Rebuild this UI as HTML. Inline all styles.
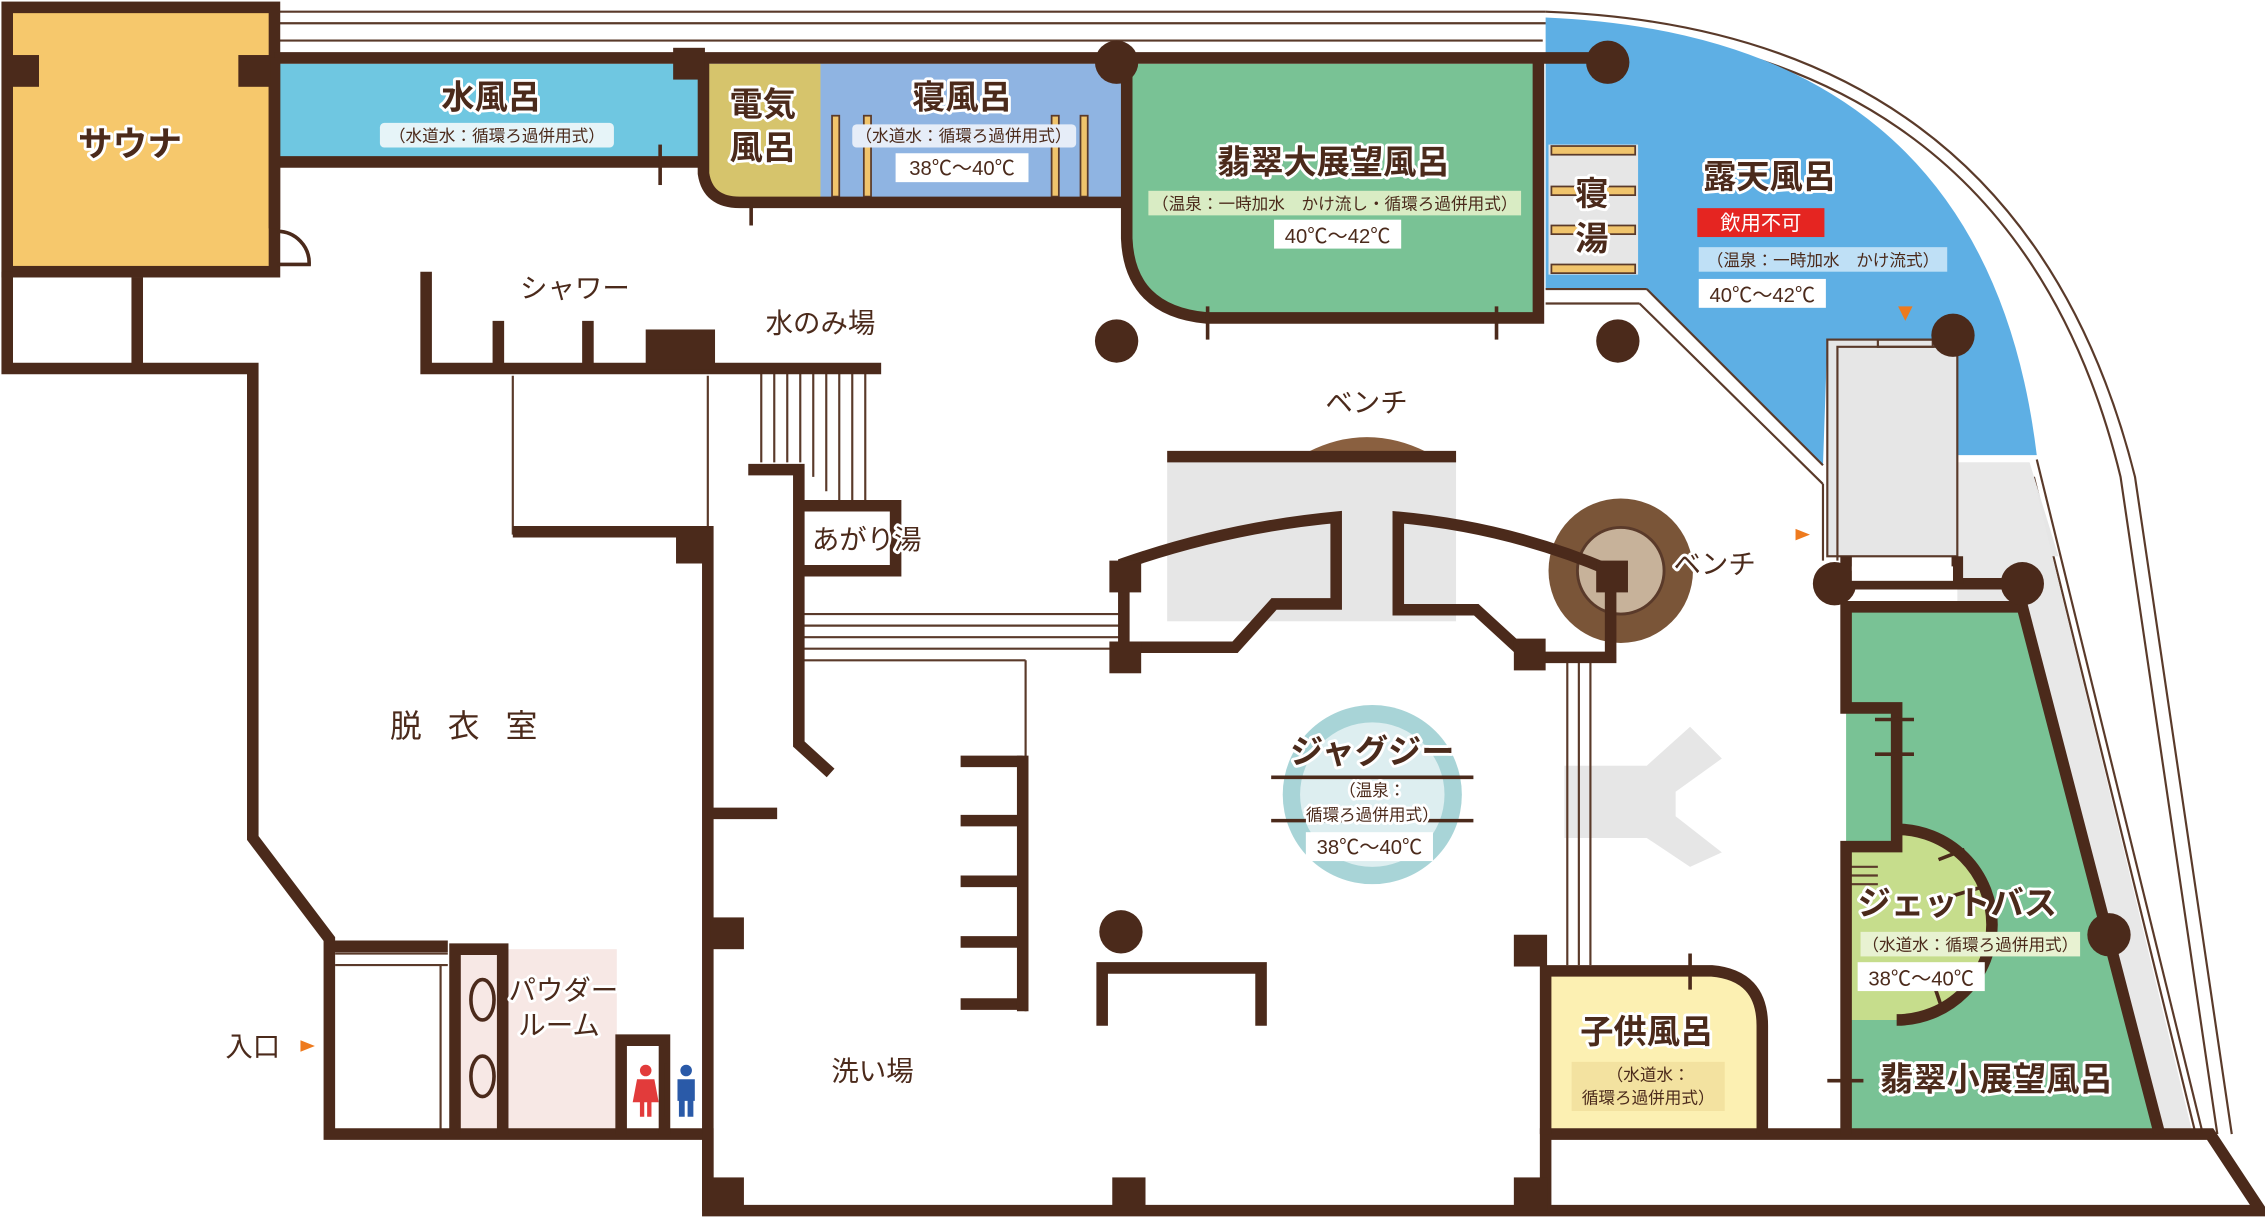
<!DOCTYPE html>
<html><head><meta charset="utf-8"><style>
html,body{margin:0;padding:0;background:#fff;}
svg{display:block;}
text{font-family:"Liberation Sans","Noto Sans CJK JP",sans-serif;}
.lb text{paint-order:stroke;stroke:#fff;stroke-width:4px;stroke-linejoin:round;}
</style></head><body>
<svg width="2265" height="1218" viewBox="0 0 1568 843" xmlns="http://www.w3.org/2000/svg">
<rect width="1568" height="843" fill="#fff"/>
<g stroke="#5a3a2a" stroke-width="1.5" fill="none">
<line x1="190" y1="8" x2="1070" y2="8"/><line x1="190" y1="16" x2="1070" y2="16"/><line x1="190" y1="28" x2="1068" y2="28"/>
<path d="M1070 8 Q1400 20 1478 330 L1545 785"/><path d="M1070 16 Q1395 30 1468 330 L1535 785"/>
<path d="M1410 318 L1525 785"/><path d="M1408 330 L1520 785"/>
</g>
<rect x="5" y="5" width="185" height="183" fill="#f6c86c"/>
<rect x="190" y="44" width="297" height="68" fill="#6fc7e1"/>
<path d="M487 44 H568 V140 H510 Q492 140 490 120 Z" fill="#d6c46c"/>
<rect x="568" y="44" width="212" height="96" fill="#8fb4e2"/>
<path d="M780 44 H1065 V220 H835 Q782 215 780 165 Z" fill="#79c295"/>
<path d="M1070 12 Q1375 25 1410 315 L1355 315 L1355 235 L1265 235 L1262 322 L1140 200 L1070 200 Z" fill="#5eafe4"/>
<rect x="1072" y="100" width="62" height="90" fill="#e6e6e6"/>
<g fill="#f0c46c" stroke="#5a3a2a" stroke-width="1.2">
<rect x="1074" y="101" width="58" height="6"/><rect x="1074" y="129" width="58" height="6"/><rect x="1074" y="156" width="58" height="6"/><rect x="1074" y="183" width="58" height="6"/>
<rect x="576" y="80" width="5" height="56"/><rect x="598" y="80" width="5" height="56"/><rect x="728" y="80" width="5" height="56"/><rect x="748" y="80" width="5" height="56"/>
</g>
<path d="M1265 235 H1355 V320 H1405 L1425 385 H1355 V385 H1265 Z" fill="#e6e6e6"/>
<path d="M1355 320 H1405 L1518 785 H1497 L1400 420 H1355 Z" fill="#e8e8e8"/>
<path d="M1278 420 H1400 L1495 785 H1278 Z" fill="#79c295"/>
<path d="M1313 574 A66 66 0 0 1 1313 706 H1278 V586 H1313 Z" fill="#c6dd8c"/>
<path d="M1070 672 H1185 Q1218 675 1220 710 V785 H1070 Z" fill="#fcf0b2"/>
<rect x="315" y="657" width="112" height="126" fill="#f7e8e5"/>
<rect x="808" y="318" width="200" height="112" fill="#e6e6e6"/>
<path d="M1083 530 H1140 L1170 503 L1192 525 L1160 548 L1160 565 L1192 590 L1170 600 L1140 580 H1083 Z" fill="#e6e6e6"/>
<circle cx="950" cy="550" r="62" fill="#a8d4d7"/><circle cx="950" cy="550" r="50" fill="#ddeef0"/>
<circle cx="1122" cy="395" r="50" fill="#7a5538"/><circle cx="1122" cy="395" r="30" fill="#c7b29a" stroke="#5a3a2a" stroke-width="2"/>
<path d="M905 313 Q946 292 988 313 Z" fill="#8a6040"/>
<g stroke="#5a3a2a" stroke-width="1.5" fill="none">
<line x1="527" y1="257" x2="527" y2="320"/><line x1="536" y1="257" x2="536" y2="320"/><line x1="545" y1="257" x2="545" y2="320"/><line x1="554" y1="257" x2="554" y2="320"/><line x1="563" y1="257" x2="563" y2="330"/><line x1="572" y1="257" x2="572" y2="340"/><line x1="581" y1="257" x2="581" y2="350"/><line x1="590" y1="257" x2="590" y2="350"/><line x1="599" y1="257" x2="599" y2="350"/>
<line x1="555" y1="425" x2="775" y2="425"/><line x1="555" y1="433" x2="775" y2="433"/><line x1="555" y1="441" x2="775" y2="441"/><line x1="555" y1="449" x2="775" y2="449"/><line x1="555" y1="457" x2="710" y2="457"/>
<line x1="710" y1="457" x2="710" y2="700"/>
<line x1="1085" y1="455" x2="1085" y2="668"/><line x1="1093" y1="455" x2="1093" y2="668"/><line x1="1101" y1="455" x2="1101" y2="668"/>
<line x1="355" y1="260" x2="355" y2="370"/><line x1="490" y1="260" x2="490" y2="370"/>
<line x1="232" y1="660" x2="310" y2="660"/><line x1="232" y1="668" x2="310" y2="668"/><line x1="305" y1="668" x2="305" y2="785"/>
<line x1="1070" y1="200" x2="1140" y2="200"/><line x1="1140" y1="200" x2="1262" y2="322"/><line x1="1070" y1="210" x2="1135" y2="210"/><line x1="1135" y1="210" x2="1262" y2="335"/>
<path d="M1262 335 V388 M1272 388 V240 H1355"/>
<rect x="1265" y="235" width="90" height="150"/>
<rect x="1300" y="235" width="38" height="5"/>
<line x1="1280" y1="600" x2="1300" y2="600"/><line x1="1280" y1="606" x2="1300" y2="606"/><line x1="1280" y1="612" x2="1300" y2="612"/>
</g>
<g stroke="#4b2a1b" stroke-width="8" fill="none">
<rect x="5" y="5" width="185" height="183"/>
<line x1="190" y1="40" x2="1115" y2="40"/>
<line x1="190" y1="112" x2="487" y2="112"/>
<line x1="190" y1="40" x2="190" y2="158"/>
<path d="M487 40 V120 Q490 140 512 140 H780"/>
<path d="M780 40 V165 Q782 215 835 220 H1065 V40"/>
<path d="M5 188 V255 H175 V580 L228 650 V785 H490 V838 H1565 L1530 785 H1070 V838"/>
<line x1="95" y1="192" x2="95" y2="255"/>
<path d="M295 188 V255 H610"/>
<line x1="345" y1="222" x2="345" y2="255"/><line x1="407" y1="222" x2="407" y2="255"/>
<path d="M355 368 H490 V838"/>
<path d="M518 325 H553 V515 L575 535"/>
<path d="M553 350 H620 V395 H553"/>
<line x1="490" y1="563" x2="538" y2="563"/>
<line x1="665" y1="527" x2="708" y2="527"/><line x1="665" y1="568" x2="708" y2="568"/><line x1="665" y1="610" x2="708" y2="610"/><line x1="665" y1="652" x2="708" y2="652"/><line x1="665" y1="695" x2="708" y2="695"/>
<line x1="708" y1="523" x2="708" y2="700"/>
<path d="M763 710 V670 H873 V710"/>
<line x1="808" y1="316" x2="1008" y2="316"/>
<path d="M778 448 V390 Q850 365 925 358 V418 H882 L855 448 Z"/>
<path d="M968 358 Q1045 365 1115 395 V455 H1058 L1022 422 H968 Z"/>
<path d="M1070 785 V672 H1185 Q1220 675 1220 710 V785"/>
<path d="M1278 785 V586 H1313 V490 H1278 V420 H1400 L1495 785"/>
<path d="M1313 574 A66 66 0 0 1 1313 706"/>
<path d="M1258 404 H1412"/>
<line x1="1355" y1="385" x2="1355" y2="404"/><line x1="1278" y1="385" x2="1278" y2="404"/>
<path d="M228 655 H310"/>
<path d="M315 785 V657 H348 V785"/>
<path d="M430 785 V720 H460 V785"/>
</g>
<g stroke="#4b2a1b" stroke-width="2.5" fill="none">
<line x1="457" y1="100" x2="457" y2="128"/><line x1="520" y1="140" x2="520" y2="156"/>
<line x1="836" y1="212" x2="836" y2="235"/><line x1="1036" y1="212" x2="1036" y2="235"/>
<line x1="1170" y1="660" x2="1170" y2="685"/>
<line x1="1298" y1="672" x2="1298" y2="672"/>
<line x1="1298" y1="498" x2="1325" y2="498"/><line x1="1298" y1="522" x2="1325" y2="522"/>
<line x1="1265" y1="748" x2="1290" y2="748"/>
<line x1="1342" y1="595" x2="1360" y2="588"/><line x1="1352" y1="620" x2="1372" y2="614"/><line x1="1355" y1="650" x2="1375" y2="654"/><line x1="1340" y1="685" x2="1345" y2="700"/>
<line x1="880" y1="538" x2="1020" y2="538"/><line x1="880" y1="568" x2="1020" y2="568"/>
<path d="M192 160 A22 22 0 0 1 214 183 H192"/>
<ellipse cx="334" cy="692" rx="8" ry="14"/><ellipse cx="334" cy="745" rx="8" ry="14"/>
</g>
<g fill="#4b2a1b">
<rect x="5" y="38" width="22" height="22"/><rect x="165" y="38" width="22" height="22"/><rect x="466" y="33" width="22" height="22"/>
<rect x="447" y="228" width="48" height="28"/><rect x="468" y="366" width="24" height="24"/>
<rect x="768" y="388" width="22" height="22"/><rect x="768" y="444" width="22" height="22"/><rect x="1105" y="388" width="22" height="22"/><rect x="1048" y="442" width="22" height="22"/>
<rect x="492" y="635" width="23" height="22"/><rect x="490" y="815" width="25" height="23"/><rect x="770" y="815" width="23" height="23"/><rect x="1048" y="815" width="23" height="23"/><rect x="1048" y="647" width="23" height="22"/>
<circle cx="773" cy="43" r="15"/><circle cx="1113" cy="43" r="15"/><circle cx="773" cy="236" r="15"/><circle cx="1120" cy="236" r="15"/><circle cx="776" cy="645" r="15"/>
<circle cx="1270" cy="404" r="15"/><circle cx="1400" cy="404" r="15"/><circle cx="1352" cy="232" r="15"/><circle cx="1460" cy="647" r="15"/>
</g>
<rect x="1282" y="392" width="70" height="10" fill="#fff"/>
<polygon points="208,720 218,724 208,728" fill="#ee7a1e"/><polygon points="1243,366 1253,370 1243,374" fill="#ee7a1e"/><polygon points="1314,212 1324,212 1319,222" fill="#ee7a1e"/>
<circle cx="447" cy="741" r="4" fill="#e23b3b"/><path d="M441 747 H453 L456 763 H438 Z M443 763 h3 v10 h-3z M448 763 h3 v10 h-3z" fill="#e23b3b"/>
<circle cx="475" cy="741" r="4" fill="#2a5aa8"/><path d="M469 747 H481 V762 H469 Z M470 762 h4 v11 h-4z M476 762 h4 v11 h-4z" fill="#2a5aa8"/>
<line x1="461" y1="736" x2="461" y2="773" stroke="#4b2a1b" stroke-width="1.5"/>
<g class="lb" fill="#4b2a1b" font-weight="bold">
<text x="90" y="108" font-size="24" text-anchor="middle">サウナ</text>
<text x="340" y="75" font-size="23" text-anchor="middle">水風呂</text>
<text x="528" y="80" font-size="23" text-anchor="middle">電気</text>
<text x="528" y="110" font-size="23" text-anchor="middle">風呂</text>
<text x="666" y="75" font-size="23" text-anchor="middle">寝風呂</text>
<text x="923" y="120" font-size="23" text-anchor="middle">翡翠大展望風呂</text>
<text x="1102" y="142" font-size="23" text-anchor="middle">寝</text><text x="1102" y="173" font-size="23" text-anchor="middle">湯</text>
<text x="1225" y="130" font-size="23" text-anchor="middle">露天風呂</text>
<text x="950" y="528" font-size="23" text-anchor="middle">ジャグジー</text>
<text x="1355" y="633" font-size="23" text-anchor="middle">ジェットバス</text>
<text x="1140" y="722" font-size="23" text-anchor="middle">子供風呂</text>
<text x="1382" y="755" font-size="23" text-anchor="middle">翡翠小展望風呂</text>
</g>
<g class="lb" fill="#4b2a1b" font-size="19">
<text x="398" y="206" text-anchor="middle">シャワー</text>
<text x="568" y="230" text-anchor="middle">水のみ場</text>
<text x="946" y="285" text-anchor="middle">ベンチ</text>
<text x="1187" y="397" text-anchor="middle">ベンチ</text>
<text x="600" y="380" text-anchor="middle">あがり湯</text>
<text x="330" y="510" text-anchor="middle" font-size="22" letter-spacing="18">脱衣室</text>
<text x="175" y="731" text-anchor="middle">入口</text>
<text x="390" y="692" text-anchor="middle">パウダー</text>
<text x="387" y="716" text-anchor="middle">ルーム</text>
<text x="604" y="748" text-anchor="middle">洗い場</text>
</g>
<g font-size="11.5" fill="#4b2a1b" text-anchor="middle">
<rect x="263" y="85" width="162" height="17" rx="3" fill="#e6f4f8"/><text x="344" y="98">（水道水：循環ろ過併用式）</text>
<rect x="590" y="86" width="155" height="16" rx="3" fill="#e6edf8"/><text x="667" y="98">（水道水：循環ろ過併用式）</text>
<rect x="620" y="106" width="92" height="20" fill="#fff"/><text x="666" y="121" font-size="14">38℃〜40℃</text>
<rect x="795" y="132" width="258" height="17" fill="#d9ecc4"/><text x="924" y="145">（温泉：一時加水　かけ流し・循環ろ過併用式）</text>
<rect x="882" y="152" width="88" height="20" fill="#fff"/><text x="926" y="168" font-size="14">40℃〜42℃</text>
<rect x="1175" y="144" width="88" height="20" fill="#e52521"/><text x="1219" y="159" font-size="14" fill="#fff">飲用不可</text>
<rect x="1176" y="171" width="172" height="17" fill="#bfe0f6"/><text x="1262" y="184">（温泉：一時加水　かけ流式）</text>
<rect x="1176" y="193" width="88" height="20" fill="#fff"/><text x="1220" y="209" font-size="14">40℃〜42℃</text>
<g class="lb"><text x="950" y="551">（温泉：</text><text x="950" y="568">循環ろ過併用式）</text></g>
<rect x="904" y="576" width="88" height="20" fill="#fff"/><text x="948" y="591" font-size="14">38℃〜40℃</text>
<rect x="1288" y="645" width="152" height="17" fill="#e8f2d2"/><text x="1364" y="658">（水道水：循環ろ過併用式）</text>
<rect x="1286" y="666" width="88" height="20" fill="#fff"/><text x="1330" y="682" font-size="14">38℃〜40℃</text>
<rect x="1088" y="735" width="106" height="34" fill="#f3e2a0"/><text x="1141" y="748">（水道水：</text><text x="1141" y="764">循環ろ過併用式）</text>
</g>
</svg>
</body></html>
